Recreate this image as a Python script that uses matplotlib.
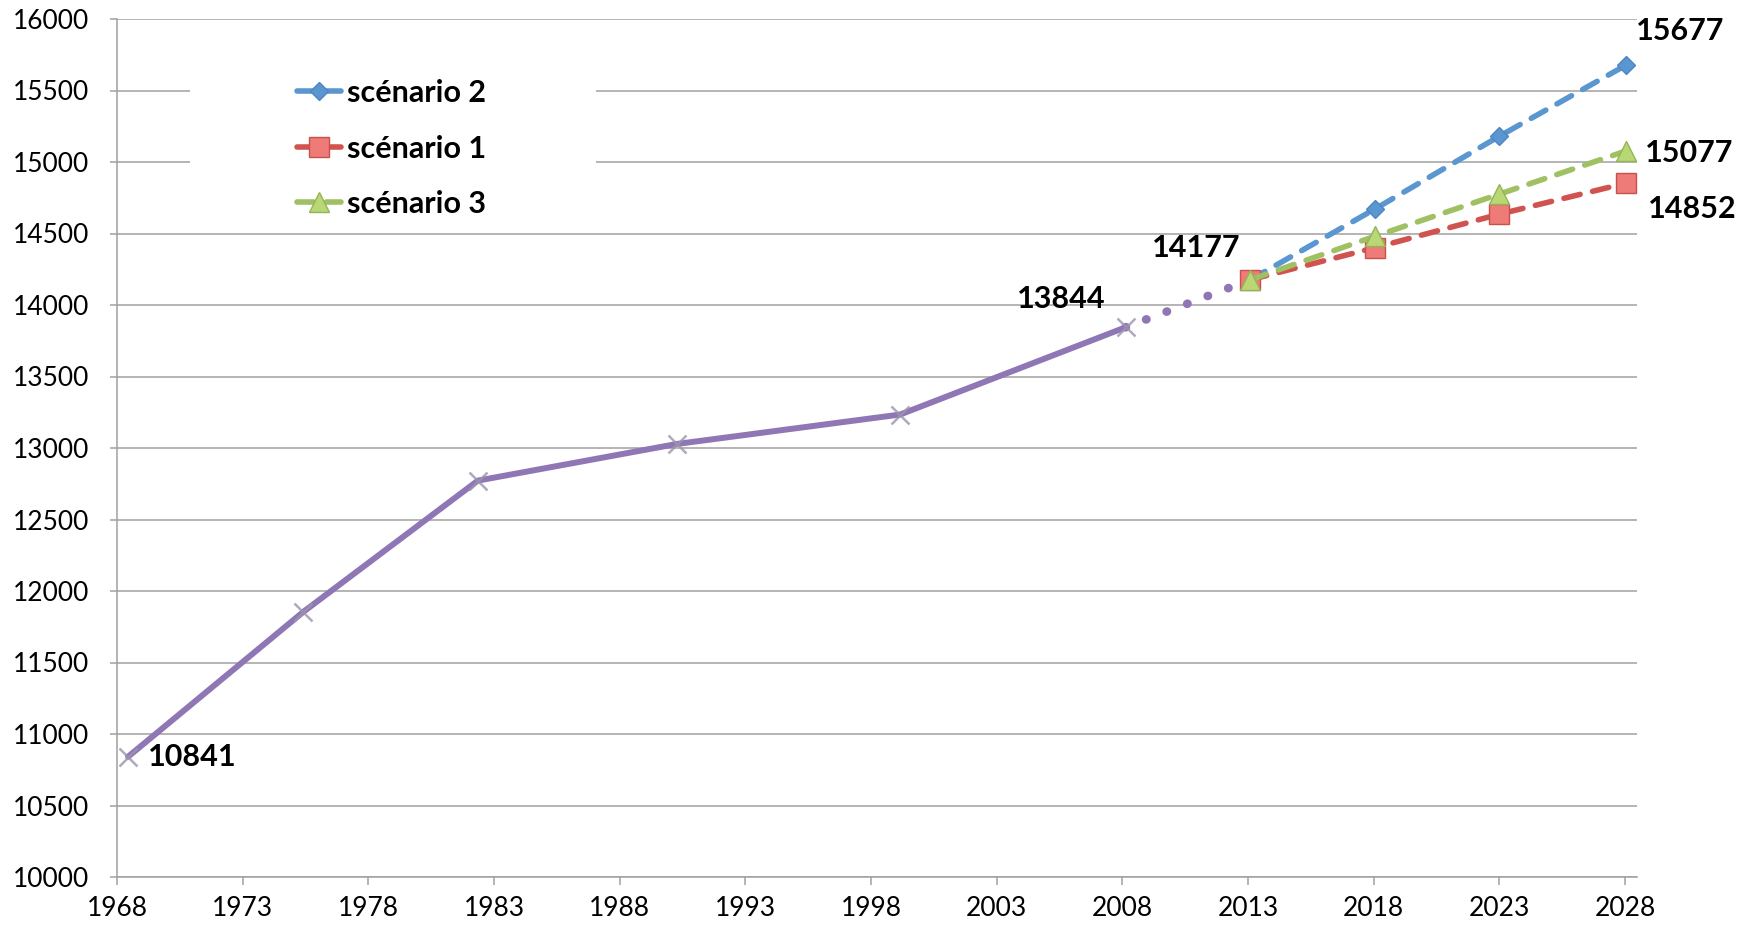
import numpy as np
import matplotlib
matplotlib.use('Agg')
import matplotlib.pyplot as plt
from matplotlib.patches import Rectangle

annees_hist = [1968.44, 1975.42, 1982.36, 1990.27, 1999.16, 2008.13]
pop_hist = [10841, 11855, 12772, 13028, 13234, 13844]

# raccord pointillé 2008 -> 2013
annees_raccord = [2008.13, 2013.1]
pop_raccord = [13844, 14177]

# projections
annees_proj = [2013.1, 2018.04, 2023.0, 2028.04]
scenario_2 = [14177, 14670, 15180, 15677]
scenario_1 = [14177, 14400, 14635, 14852]
scenario_3 = [14177, 14480, 14775, 15077]

xticks = list(range(1968, 2029, 5))
yticks = list(range(10000, 16001, 500))

# étiquettes de valeurs : (x, y, texte, décalage en pixels)
etiquettes = [
    (1968.44, 10841, '10841', (64, 0)),
    (2008.13, 13844, '13844', (-64, 28)),
    (2013.1, 14177, '14177', (-54, 32)),
    (2028.04, 15677, '15677', (54, 34)),
    (2028.04, 15077, '15077', (63, -2)),
    (2028.04, 14852, '14852', (66, -26)),
]

plt.rcParams['font.family'] = ['Lato', 'DejaVu Sans']

c_violet = '#8F77B5'
c_bleu = '#5A96D0'
c_rouge = '#D0534F'
c_vert = '#9FC063'
c_grille = '#A0A0A0'

fig = plt.figure(figsize=(17.51, 9.27), dpi=100)
ax = fig.add_axes([117 / 1751, 1 - 877 / 927, 1520 / 1751, 858 / 927])

ax.set_xlim(1968, 2028.48)
ax.set_ylim(10000, 16000)
ax.set_xticks(xticks)
ax.set_yticks(yticks)
ax.yaxis.grid(True, color=c_grille, linewidth=1.1, zorder=0)
ax.set_axisbelow(True)
for s in ['top', 'right']:
    ax.spines[s].set_visible(False)
for s in ['left', 'bottom']:
    ax.spines[s].set_color(c_grille)
    ax.spines[s].set_linewidth(1.1)
ax.tick_params(axis='x', direction='out', length=6, width=1.1, color=c_grille,
               labelsize=19, pad=8)
ax.tick_params(axis='y', direction='out', length=5, width=1.1, color=c_grille,
               labelsize=19, pad=15)

# fond blanc de la légende (masque la grille)
ax.add_patch(Rectangle((0.048, 0.76), 0.267, 0.19, transform=ax.transAxes,
                       facecolor='white', edgecolor='none', zorder=1))

# série historique
ax.plot(annees_hist, pop_hist, color=c_violet, linewidth=4.3, zorder=3,
        solid_capstyle='round')
ax.plot(annees_raccord, pop_raccord, color=c_violet, linewidth=6.2,
        linestyle=(0, (0.05, 2.5)), dash_capstyle='round', zorder=3)
ax.plot(annees_hist + [2013.1], pop_hist + [14177], linestyle='none',
        marker='x', markersize=13, markeredgewidth=1.8, color='#9D95AE',
        alpha=0.8, zorder=4)

# scénarios
ax.plot(annees_proj, scenario_2, color=c_bleu, linewidth=4.0,
        linestyle=(0, (3.0, 2.3)), dash_capstyle='round',
        marker='D', markersize=9, markerfacecolor='#5A96D0',
        markeredgecolor='#4F86C0', label='scénario 2', zorder=5)
ax.plot(annees_proj, scenario_1, color=c_rouge, linewidth=4.0,
        linestyle=(0, (3.0, 2.3)), dash_capstyle='round',
        marker='s', markersize=14, markerfacecolor='#EE7B78',
        markeredgecolor='#C9504C', label='scénario 1', zorder=5)
ax.plot(annees_proj, scenario_3, color=c_vert, linewidth=4.0,
        linestyle=(0, (3.0, 2.3)), dash_capstyle='round',
        marker='^', markersize=14, markerfacecolor='#B9D774',
        markeredgecolor='#93B556', label='scénario 3', zorder=6)

for x, y, txt, off in etiquettes:
    ax.annotate(txt, (x, y), xytext=off, textcoords='offset pixels',
                ha='center', va='center', fontsize=22, fontweight='bold',
                zorder=7)

leg = ax.legend(loc='upper left', bbox_to_anchor=(0.1, 0.962),
                frameon=False, handlelength=1.45,
                handletextpad=0.2, labelspacing=0.9, numpoints=1,
                prop={'weight': 'bold', 'size': 22})
leg.set_zorder(8)

fig.savefig('out.png', dpi=100)
